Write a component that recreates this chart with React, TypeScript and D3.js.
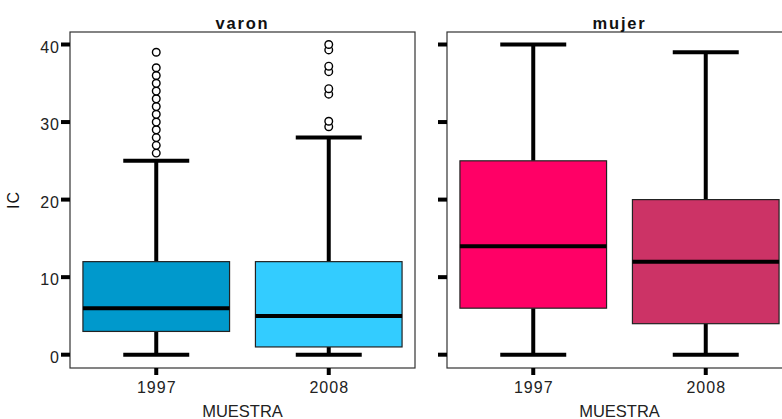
import React from 'react';
import * as d3 from 'd3';

// Box stats per panel / year: [min, q1, median, q3, max whisker]
const YEARS = ['1997', '2008'];
const PANELS = ['varon', 'mujer'];
const VARON_1997 = [0, 3, 6, 12, 25];
const VARON_2008 = [0, 1, 5, 12, 28];
const MUJER_1997 = [0, 6, 14, 25, 40];
const MUJER_2008 = [0, 4, 12, 20, 39];
const VARON_1997_OUT = [26, 27, 28, 29, 30, 31, 32, 33, 34, 35, 36, 37, 39];
const VARON_2008_OUT = [29.4, 30.1, 33.6, 34.3, 36.5, 37.2, 39.3, 40];
const Y_TICKS = [0, 10, 20, 30, 40];
const COLORS = ['#0099CC', '#33CCFF', '#FF0066', '#CC3366'];

const W = 782;
const H = 419;
const PANEL_W = 345;
const PANEL_X = [70, 447];
const TOP = 32;
const BOTTOM = 368;
const FONT = '"Liberation Sans", Arial, sans-serif';

const y = d3.scaleLinear().domain([0, 40]).range([354.7, 44.5]);
const x = d3.scalePoint<string>().domain(YEARS).range([0, PANEL_W]).padding(0.5);
const step = x.step();
const boxW = step * 0.85;
const capW = boxW * 0.45;

const STATS = [
  [VARON_1997, VARON_2008],
  [MUJER_1997, MUJER_2008],
];
const OUTLIERS = [
  [VARON_1997_OUT, VARON_2008_OUT],
  [[], []],
];

const Box: React.FC<{ cx: number; s: number[]; fill: string; out: number[] }> = ({ cx, s, fill, out }) => {
  const [mn, q1, md, q3, mx] = s;
  return (
    <g>
      <line x1={cx} x2={cx} y1={y(mn)} y2={y(q1)} stroke="#000" strokeWidth={4} />
      <line x1={cx} x2={cx} y1={y(q3)} y2={y(mx)} stroke="#000" strokeWidth={4} />
      <line x1={cx - capW / 2} x2={cx + capW / 2} y1={y(mn)} y2={y(mn)} stroke="#000" strokeWidth={4} />
      <line x1={cx - capW / 2} x2={cx + capW / 2} y1={y(mx)} y2={y(mx)} stroke="#000" strokeWidth={4} />
      <rect x={cx - boxW / 2} y={y(q3)} width={boxW} height={y(q1) - y(q3)} fill={fill} stroke="#222" strokeWidth={1.2} />
      <line x1={cx - boxW / 2} x2={cx + boxW / 2} y1={y(md)} y2={y(md)} stroke="#000" strokeWidth={4} />
      {out.map((v, i) => (
        <circle key={i} cx={cx} cy={y(v)} r={3.8} fill="#fff" stroke="#000" strokeWidth={1.4} />
      ))}
    </g>
  );
};

export default function App() {
  return (
    <svg width={W} height={H} style={{ display: 'block', position: 'absolute', left: 0, top: 0, background: '#fff' }}>
      <text
        transform={`translate(19,200) rotate(-90)`}
        textAnchor="middle"
        fontFamily={FONT}
        fontSize={16}
        letterSpacing={1}
        fill="#111"
      >
        IC
      </text>
      {PANELS.map((p, pi) => {
        const x0 = PANEL_X[pi];
        return (
          <g key={p} transform={`translate(${x0},0)`}>
            <rect x={0} y={TOP} width={PANEL_W} height={BOTTOM - TOP} fill="none" stroke="#333" strokeWidth={1.2} />
            <text
              x={PANEL_W / 2}
              y={29}
              textAnchor="middle"
              fontFamily={FONT}
              fontSize={16.5}
              fontWeight="bold"
              letterSpacing={1.8}
              fill="#111"
            >
              {p}
            </text>
            {Y_TICKS.map(t => (
              <g key={t}>
                <line x1={-9} x2={0} y1={y(t)} y2={y(t)} stroke="#000" strokeWidth={4} />
                {pi === 0 && (
                  <text
                    x={-10}
                    y={y(t) + 8}
                    textAnchor="end"
                    fontFamily={FONT}
                    fontSize={16}
                    letterSpacing={1}
                    fill="#222"
                  >
                    {t}
                  </text>
                )}
              </g>
            ))}
            {YEARS.map((yr, yi) => {
              const cx = x(yr) as number;
              return (
                <g key={yr}>
                  <line x1={cx} x2={cx} y1={BOTTOM} y2={BOTTOM + 7} stroke="#000" strokeWidth={4} />
                  <text
                    x={cx + 0.5}
                    y={393}
                    textAnchor="middle"
                    fontFamily={FONT}
                    fontSize={16}
                    letterSpacing={1}
                    fill="#222"
                  >
                    {yr}
                  </text>
                  <Box cx={cx} s={STATS[pi][yi]} fill={COLORS[pi * 2 + yi]} out={OUTLIERS[pi][yi]} />
                </g>
              );
            })}
            <text
              x={PANEL_W / 2}
              y={417}
              textAnchor="middle"
              fontFamily={FONT}
              fontSize={16.5}
              fill="#222"
            >
              MUESTRA
            </text>
          </g>
        );
      })}
    </svg>
  );
}
